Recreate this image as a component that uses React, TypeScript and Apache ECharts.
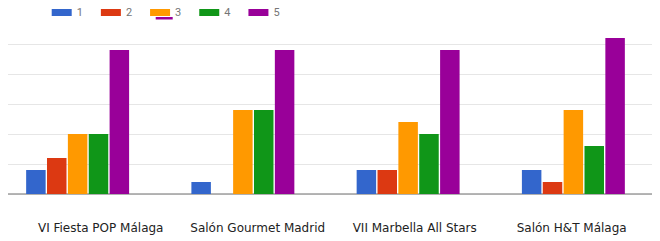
import React, { useEffect, useRef } from "react";
import * as echarts from "echarts";

const categories = ["VI Fiesta POP Málaga", "Salón Gourmet Madrid", "VII Marbella All Stars", "Salón H&T Málaga"];
const seriesNames = ["1", "2", "3", "4", "5"];
const s1 = [2, 1, 2, 2];
const s2 = [3, 0, 2, 1];
const s3 = [5, 7, 6, 7];
const s4 = [5, 7, 5, 4];
const s5 = [12, 12, 12, 13];
const colors = ["#3366cc", "#dc3912", "#ff9900", "#109618", "#990099"];
const yTicks = { min: 0, max: 12.5, interval: 2.5 };

const SHIFT = 4.7;

export default function App() {
  const ref = useRef<HTMLDivElement>(null);
  useEffect(() => {
    if (!ref.current) return;
    const chart = echarts.init(ref.current, null, { renderer: "svg" });
    const data = [s1, s2, s3, s4, s5];
    chart.setOption({
      animation: false,
      color: colors,
      textStyle: { fontFamily: "Roboto, sans-serif" },
      legend: {
        data: seriesNames,
        left: 47 + SHIFT,
        top: 2,
        icon: "rect",
        itemWidth: 20,
        itemHeight: 7,
        itemGap: 18,
        textStyle: { fontSize: 11, color: "#757575" },
      },
      graphic: [
        { type: "rect", shape: { x: 156 + SHIFT, y: 17, width: 17, height: 2.5 }, style: { fill: "#990099" } },
      ],
      grid: [
        { left: 0, right: 4, top: 44, bottom: 47 },
        { left: 5 + SHIFT, right: 3, top: 44, bottom: 47 },
        { left: 22.5 + SHIFT, width: 628, top: 44, bottom: 47 },
      ],
      xAxis: [
        {
          type: "category",
          gridIndex: 0,
          data: categories,
          axisLine: { show: false },
          axisTick: { show: false },
          axisLabel: { show: false },
        },
        {
          type: "category",
          gridIndex: 1,
          data: categories,
          axisLine: { show: true, lineStyle: { color: "#9e9e9e", width: 1.5 } },
          axisTick: { show: false },
          axisLabel: { show: false },
        },
        {
          type: "category",
          gridIndex: 2,
          data: categories,
          axisLine: { show: false },
          axisTick: { show: false },
          axisLabel: {
            show: true,
            interval: 0,
            fontSize: 12,
            fontFamily: "'DejaVu Sans', sans-serif",
            color: "#222222",
            margin: 28,
          },
        },
      ],
      yAxis: [
        { type: "value", gridIndex: 0, ...yTicks, show: false, splitLine: { show: false } },
        {
          type: "value",
          gridIndex: 1,
          ...yTicks,
          axisLabel: { show: false },
          axisLine: { show: false },
          axisTick: { show: false },
          splitLine: { show: true, lineStyle: { color: "#e6e6e6", width: 1 } },
        },
        { type: "value", gridIndex: 2, ...yTicks, show: false, splitLine: { show: false } },
      ],
      series: seriesNames.map((name, i) => ({
        name,
        type: "bar",
        xAxisIndex: 0,
        yAxisIndex: 0,
        data: data[i],
        barWidth: 19.5,
        barGap: "7%",
        clip: false,
        itemStyle: { color: colors[i] },
      })),
    });
    return () => chart.dispose();
  }, []);
  return (
    <div
      ref={ref}
      style={{ width: 660 + SHIFT, height: 241, marginTop: -8, marginLeft: -8 - SHIFT }}
    />
  );
}
